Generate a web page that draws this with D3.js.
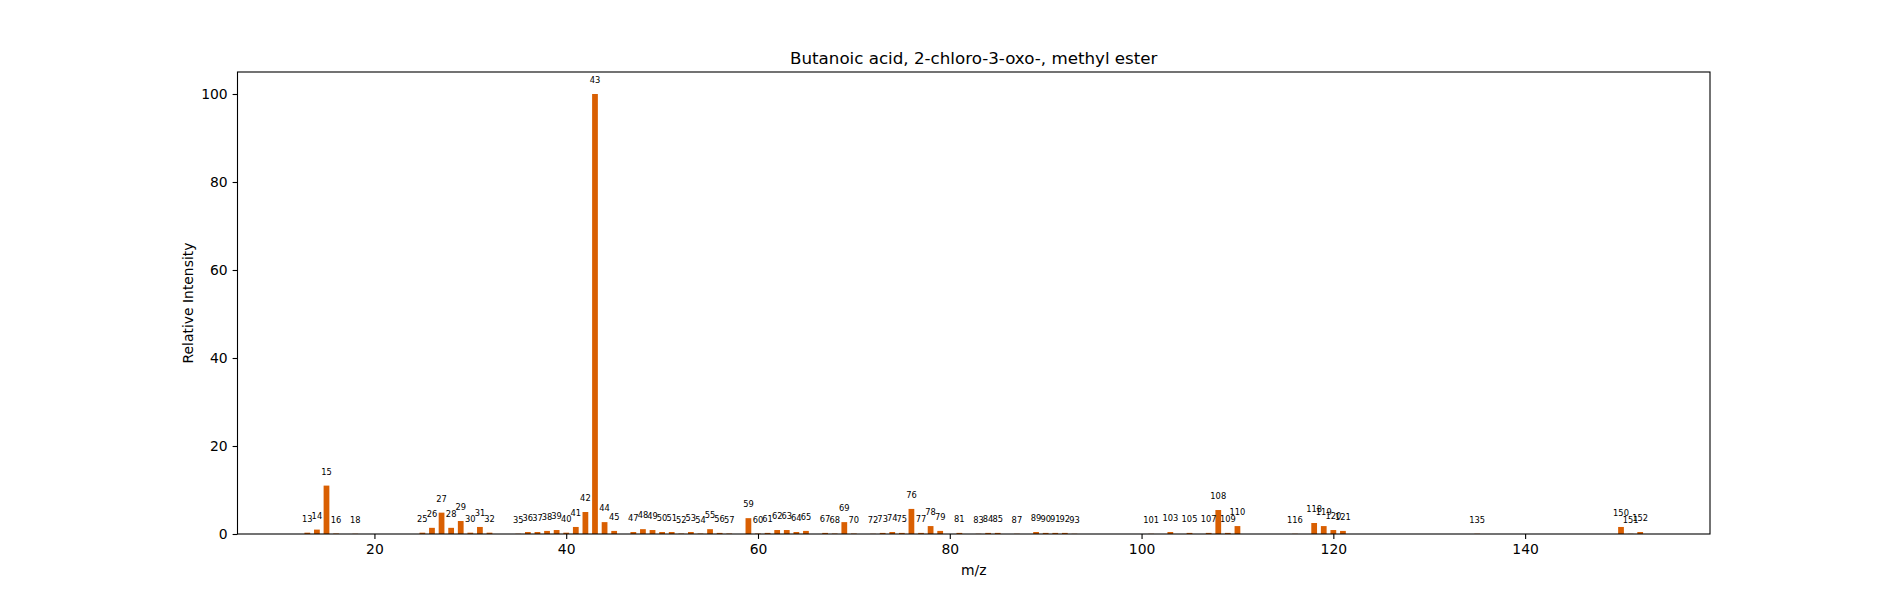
<!DOCTYPE html>
<html>
<head>
<meta charset="utf-8">
<script src="https://cdn.jsdelivr.net/npm/d3@7"></script>
<style>
  body { margin: 0; background: white; }
  text { font-family: "DejaVu Sans", sans-serif; fill: black; }
</style>
</head>
<body>
<div id="chart"></div>
<script>
// peaks
const mz = [13,14,15,16,18,25,26,27,28,29,30,31,32,35,36,37,38,39,40,41,42,43,44,45,47,48,49,50,51,52,53,54,55,56,57,59,60,61,62,63,64,65,67,68,69,70,72,73,74,75,76,77,78,79,81,83,84,85,87,89,90,91,92,93,101,103,105,107,108,109,110,116,118,119,120,121,135,150,151,152];
const intensity = [0.3,1.0,11.0,0.1,0.05,0.3,1.4,4.85,1.4,2.95,0.3,1.6,0.3,0.05,0.45,0.45,0.7,0.9,0.3,1.6,5.0,100,2.7,0.7,0.45,1.1,0.9,0.45,0.45,0.1,0.45,0.1,1.1,0.25,0.1,3.6,0.1,0.25,0.9,0.9,0.45,0.7,0.25,0.1,2.7,0.1,0.05,0.25,0.45,0.25,5.7,0.25,1.8,0.7,0.25,0.05,0.25,0.25,0.05,0.45,0.25,0.25,0.25,0.05,0.05,0.45,0.25,0.25,5.45,0.25,1.8,0.05,2.5,1.8,0.9,0.7,0.05,1.6,0.05,0.45];
const xTicks = [20,40,60,80,100,120,140];
const yTicks = [0,20,40,60,80,100];
const title = "Butanoic acid, 2-chloro-3-oxo-, methyl ester";

let peaks = mz.map((m, i) => ({mz: m, val: intensity[i]}));

let W = 1900, H = 600;
let m = {left: 237.5, right: 1710, top: 72, bottom: 534};
let barW = 0.6;

// matplotlib style 5% padding on the x data range
let lo = d3.min(mz) - barW/2, hi = d3.max(mz) + barW/2;
let pad = (hi - lo) * 0.05;

let x = d3.scaleLinear().domain([lo - pad, hi + pad]).range([m.left, m.right]);
let y = d3.scaleLinear().domain([0, d3.max(intensity) * 1.05]).range([m.bottom, m.top]);

let svg = d3.select('#chart').append('svg')
    .attr('width', W)
    .attr('height', H)
    .style('background', 'white');

let g = svg.append('g');

g.selectAll('rect.bar')
  .data(peaks)
  .join('rect')
  .attr('class', 'bar')
  .attr('x', d => x(d.mz - barW/2))
  .attr('width', d => x(d.mz + barW/2) - x(d.mz - barW/2))
  .attr('y', d => y(d.val))
  .attr('height', d => y(0) - y(d.val))
  .attr('fill', '#d95f02');

// peak labels, sitting 2 units above each bar
g.selectAll('text.lbl')
  .data(peaks)
  .join('text')
  .attr('class', 'lbl')
  .attr('x', d => x(d.mz))
  .attr('y', d => y(d.val + 2) - 2)
  .attr('text-anchor', 'middle')
  .attr('font-size', '8.3px')
  .text(d => d.mz);

// axes
let xAxis = d3.axisBottom(x).tickValues(xTicks).tickSize(4.9).tickPadding(4.9);
let yAxis = d3.axisLeft(y).tickValues(yTicks).tickSize(4.9).tickPadding(4.9);

let gx = svg.append('g').attr('transform', `translate(0,${m.bottom})`).call(xAxis);
let gy = svg.append('g').attr('transform', `translate(${m.left},0)`).call(yAxis);

[gx, gy].forEach(a => {
  a.select('.domain').remove();
  a.selectAll('.tick line').attr('stroke', 'black').attr('stroke-width', 1.1);
  a.selectAll('.tick text').attr('font-size', '13.9px').attr('font-family', '"DejaVu Sans", sans-serif').attr('fill', 'black');
});

// frame
svg.append('rect')
  .attr('x', m.left).attr('y', m.top)
  .attr('width', m.right - m.left).attr('height', m.bottom - m.top)
  .attr('fill', 'none').attr('stroke', 'black').attr('stroke-width', 1.1);

svg.append('text')
  .attr('x', (m.left + m.right)/2).attr('y', 63.5)
  .attr('text-anchor', 'middle').attr('font-size', '16.7px')
  .text(title);

svg.append('text')
  .attr('x', (m.left + m.right)/2).attr('y', 575)
  .attr('text-anchor', 'middle').attr('font-size', '13.9px')
  .text('m/z');

svg.append('text')
  .attr('transform', `translate(192.5,${(m.top + m.bottom)/2}) rotate(-90)`)
  .attr('text-anchor', 'middle').attr('font-size', '13.9px')
  .text('Relative Intensity');
</script>
</body>
</html>
